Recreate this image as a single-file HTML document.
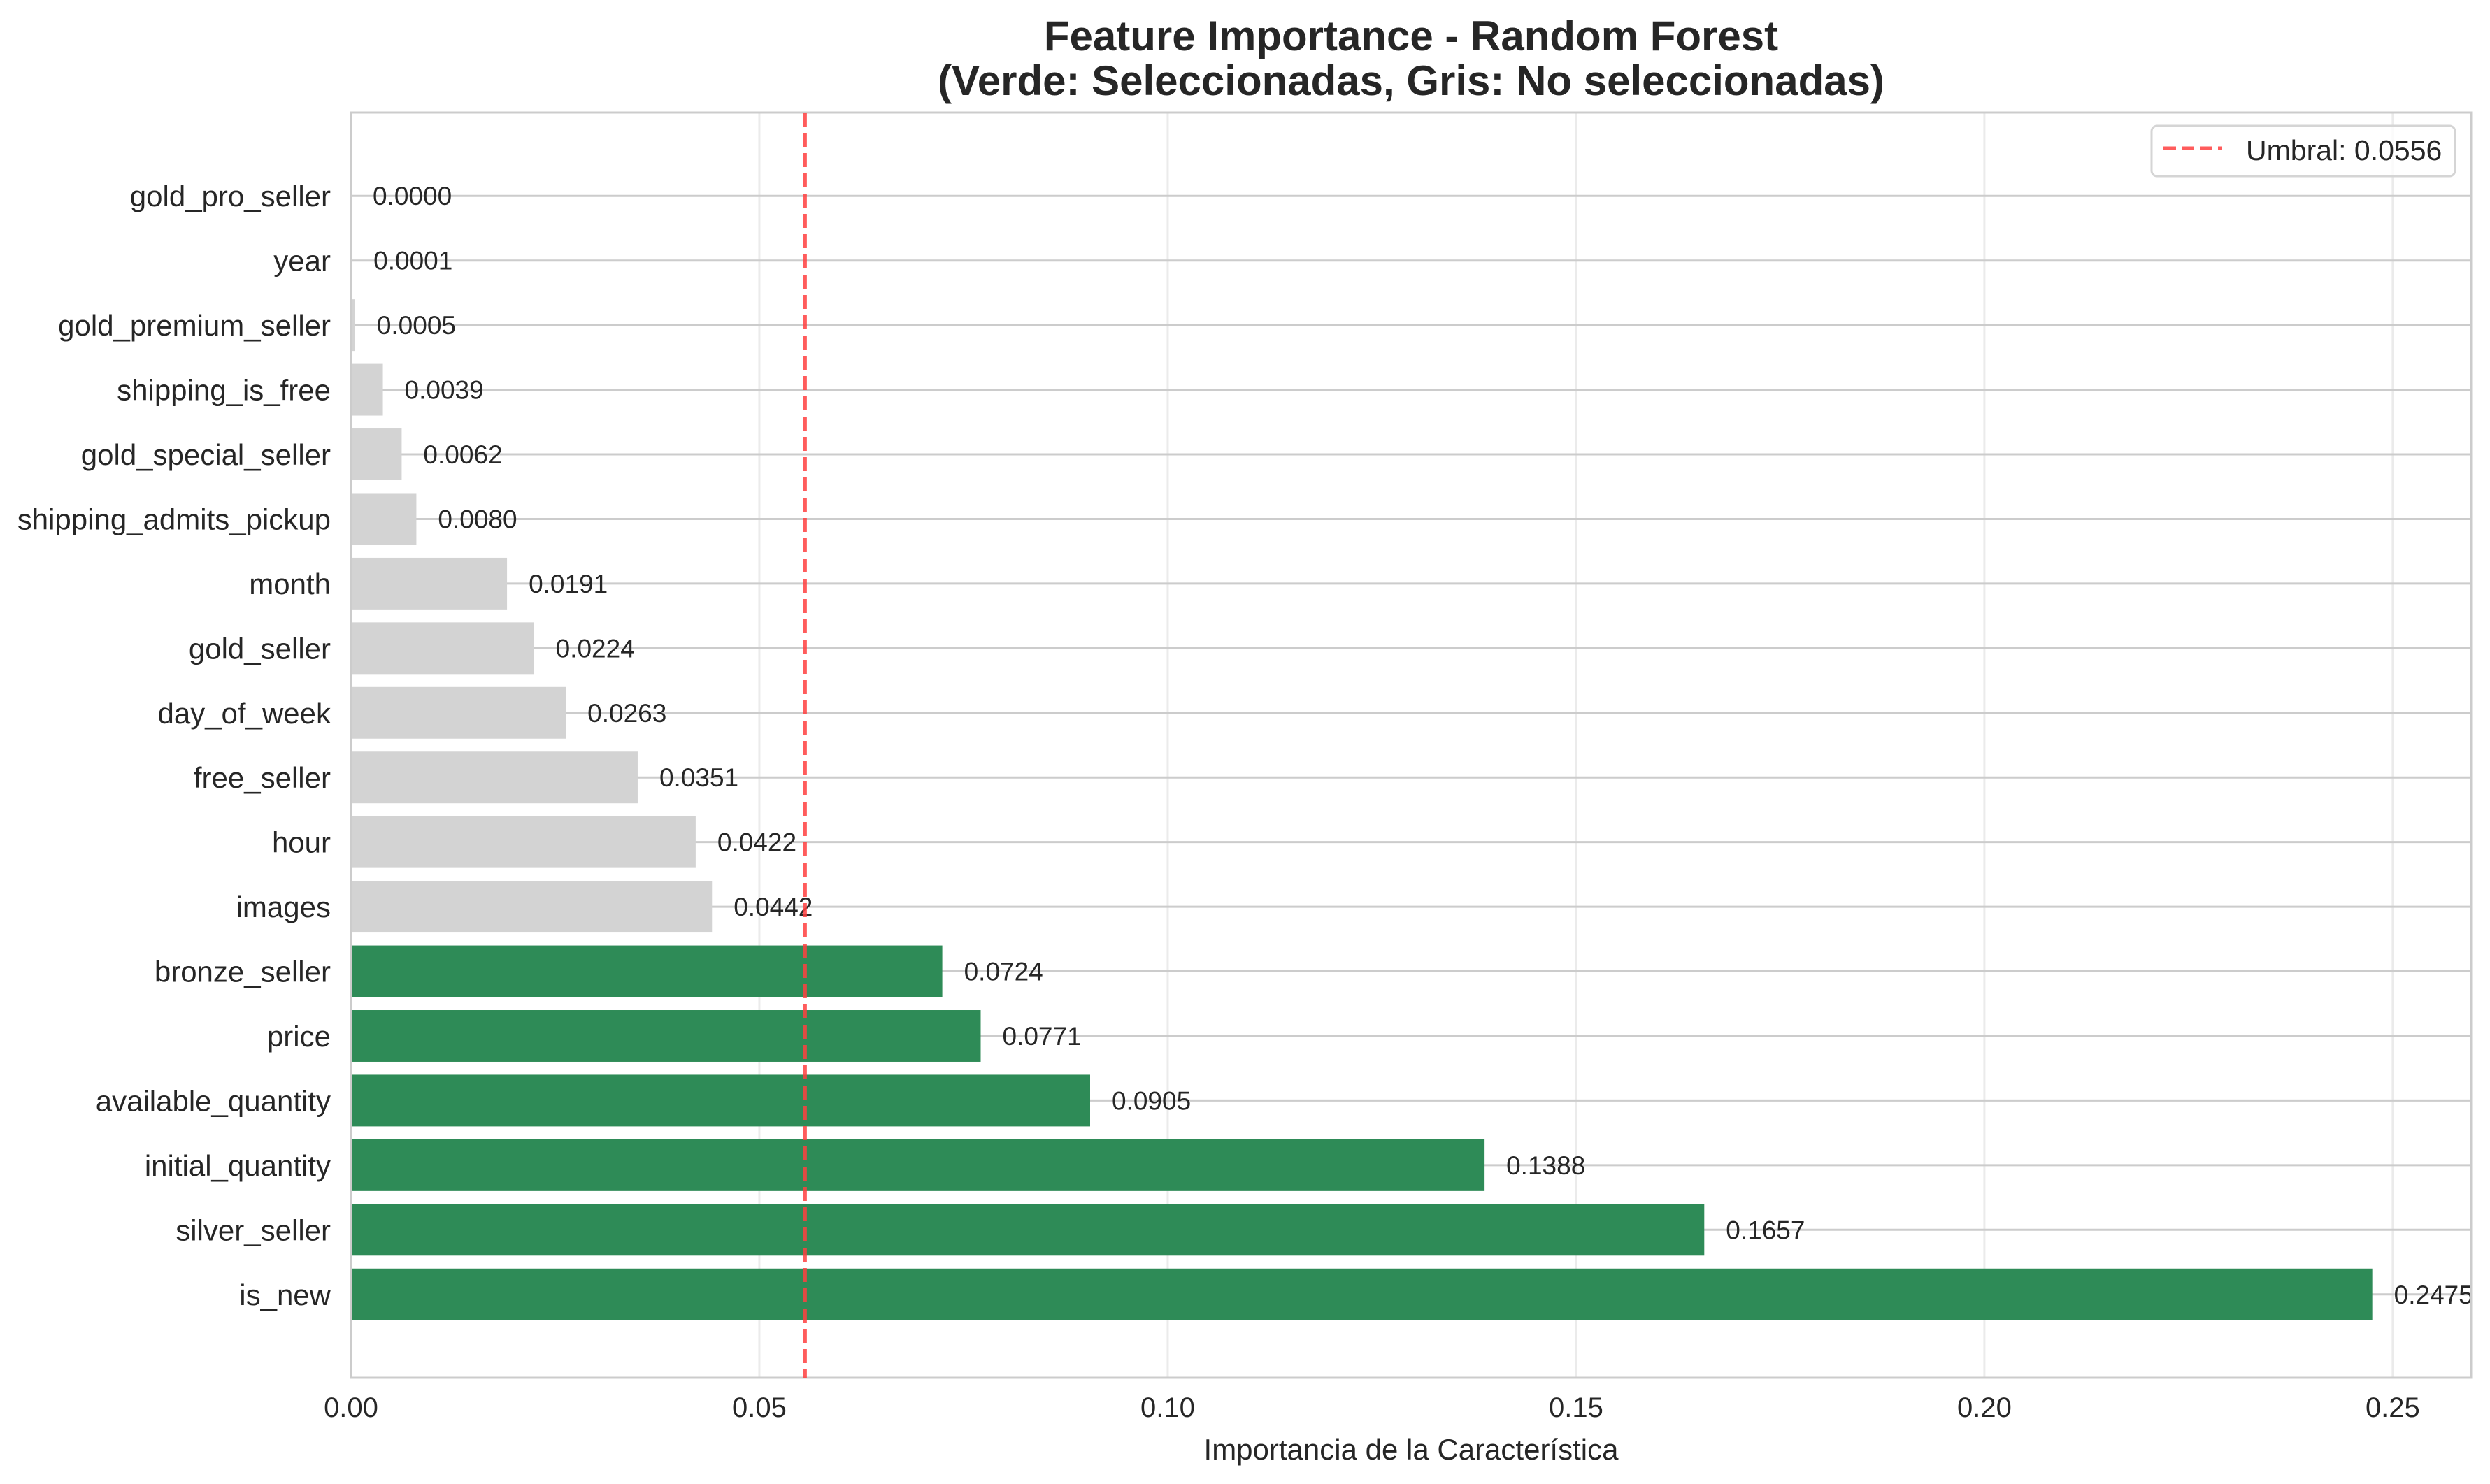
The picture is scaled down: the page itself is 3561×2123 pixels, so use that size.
<!DOCTYPE html>
<html><head><meta charset="utf-8"><style>
html,body{margin:0;padding:0;background:#fff;}
svg{display:block;font-family:"Liberation Sans",Arial,sans-serif;}
</style></head><body>
<svg id="chart" width="3561" height="2123" viewBox="0 0 3561 2123" xmlns="http://www.w3.org/2000/svg">
<rect x="0" y="0" width="3561" height="2123" fill="#fff"/>
<g id="grid"></g>
<g id="bars"></g>
<g id="vals"></g>
<g id="ylabels"></g>
<g id="xticks"></g>
<rect x="502" y="161" width="3032" height="1810" fill="none" stroke="#cccccc" stroke-width="3"/>
<line id="thr" y1="161" y2="1971" stroke="#ff4040" stroke-opacity="0.85" stroke-width="5" stroke-dasharray="20,9"/>
<text x="2018" y="132" font-size="60" font-weight="bold" fill="#262626" text-anchor="middle"><tspan x="2018" y="72">Feature Importance - Random Forest</tspan><tspan x="2018" y="136">(Verde: Seleccionadas, Gris: No seleccionadas)</tspan></text>
<text x="2018" y="2088" font-size="42" fill="#262626" text-anchor="middle">Importancia de la Característica</text>
<g>
<rect x="3077" y="180" width="434" height="72" rx="8" fill="#fff" fill-opacity="0.8" stroke="#d5d5d5" stroke-width="3"/>
<line x1="3094" y1="212" x2="3178" y2="212" stroke="#ff4040" stroke-opacity="0.85" stroke-width="5" stroke-dasharray="18,8"/>
<text x="3212" y="229" font-size="41" fill="#262626">Umbral: 0.0556</text>
</g>
</svg>
<script>
const features = ["gold_pro_seller","year","gold_premium_seller","shipping_is_free","gold_special_seller","shipping_admits_pickup","month","gold_seller","day_of_week","free_seller","hour","images","bronze_seller","price","available_quantity","initial_quantity","silver_seller","is_new"];
const importances = [0.0000,0.0001,0.0005,0.0039,0.0062,0.0080,0.0191,0.0224,0.0263,0.0351,0.0422,0.0442,0.0724,0.0771,0.0905,0.1388,0.1657,0.2475];
const threshold = 0.0556;
const xTicks = [0,0.05,0.10,0.15,0.20,0.25];
const xTickLabels = ["0.00","0.05","0.10","0.15","0.20","0.25"];

const NS="http://www.w3.org/2000/svg";
const L=502,R=3534,T=161,B=1971;
const xMax=0.2596;
const x=v=>L+(v/xMax)*(R-L);
const n=features.length;
const step=(B-T)/(n-1+2*1.29);
const y=i=>T+step*1.29+i*step;
const bh=step*0.8;
function mk(tag,attrs,parent){const e=document.createElementNS(NS,tag);for(const k in attrs)e.setAttribute(k,attrs[k]);document.getElementById(parent).appendChild(e);return e;}

xTicks.forEach((t,i)=>{
  const g=mk('line',{x1:x(t),x2:x(t),y1:T,y2:B,stroke:'#ebebeb','stroke-width':3},'grid');
  
  
  const tx=mk('text',{x:x(t),y:2027,'font-size':40,fill:'#262626','text-anchor':'middle'},'xticks');
  tx.textContent=xTickLabels[i];
  
  
});
features.forEach((f,i)=>{
  const cy=y(i);
  const g=mk('line',{x1:L,x2:R,y1:cy,y2:cy,stroke:'#cccccc','stroke-width':3},'grid');
  
  
  const v=importances[i];
  const b=mk('rect',{x:L,y:cy-bh/2,width:Math.max(0,x(v)-L),height:bh,fill:v>=threshold?'#2e8b57':'#d3d3d3'},'bars');
  
  
  const t=mk('text',{x:x(v)+31,y:cy+13,'font-size':37,fill:'#262626'},'vals');
  t.textContent=v.toFixed(4);
  
  
  const yl=mk('text',{x:473,y:cy+15,'font-size':42,fill:'#262626','text-anchor':'end'},'ylabels');
  yl.textContent=f;
  
  
});
const th=document.getElementById('thr');
th.setAttribute('x1',x(threshold));th.setAttribute('x2',x(threshold));
</script>
</body></html>
